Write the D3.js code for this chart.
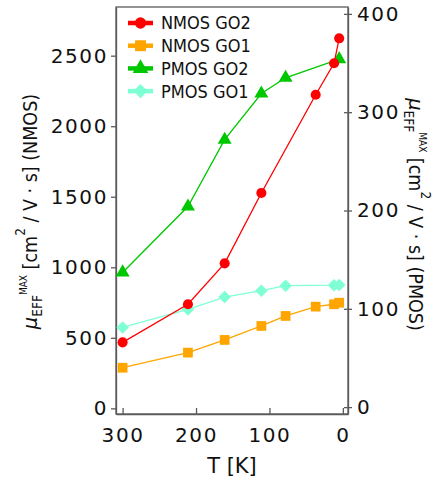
<!DOCTYPE html>
<html><head><meta charset="utf-8">
<script src="https://cdn.jsdelivr.net/npm/d3@7"></script>
<style>
html,body{margin:0;padding:0;background:#fff;}
svg{display:block;font-family:"DejaVu Sans",sans-serif;}
</style></head>
<body>
<svg id="chart" width="438" height="480"></svg>
<script>
// ---- data ----
const nmosGO2T = [300, 211, 161, 111, 37, 12, 5];
const nmosGO2V = [468, 738, 1028, 1527, 2223, 2446, 2623];
const nmosGO1T = [300, 211, 161, 111, 78, 37, 12, 5];
const nmosGO1V = [288, 395, 485, 584, 655, 721, 738, 749];
const pmosGO2T = [300, 211, 161, 111, 78, 5];
const pmosGO2V = [137, 204, 272, 319, 335, 354];
const pmosGO1T = [300, 211, 161, 111, 78, 12, 5];
const pmosGO1V = [81, 99.5, 112, 118.4, 123.5, 124, 124.2];
const xTicks = [300, 200, 100, 0];
const yLeftTicks = [0, 500, 1000, 1500, 2000, 2500];
const yRightTicks = [0, 100, 200, 300, 400];
const seriesNames = ["NMOS GO2", "NMOS GO1", "PMOS GO2", "PMOS GO1"];

const svg = d3.select("#chart");
const L = 116, R = 348, T = 7, B = 414;
const x = d3.scaleLinear().domain([309, -7]).range([L, R]);
const yL = d3.scaleLinear().domain([-40, 2845]).range([B, T]);
const yR = d3.scaleLinear().domain([-7, 407]).range([B, T]);

const axisColor = "#5a5a5a";
const fs = 20;
const condensed = "'DejaVu Sans Condensed', 'DejaVu Sans', sans-serif";

// frame
svg.append("rect").attr("x", L).attr("y", T).attr("width", R - L).attr("height", B - T)
  .attr("fill", "none").attr("stroke", axisColor).attr("stroke-width", 1.3);

const fmt = d3.format("d");
// x axis
const gx = svg.append("g").attr("transform", `translate(0,${B})`)
  .call(d3.axisBottom(x).tickValues(xTicks).tickFormat(fmt).tickSizeInner(-6).tickSizeOuter(0).tickPadding(14));
// left axis
const gyl = svg.append("g").attr("transform", `translate(${L},0)`)
  .call(d3.axisLeft(yL).tickValues(yLeftTicks).tickFormat(fmt).tickSizeInner(5).tickSizeOuter(0).tickPadding(3));
// right axis
const gyr = svg.append("g").attr("transform", `translate(${R},0)`)
  .call(d3.axisRight(yR).tickValues(yRightTicks).tickFormat(fmt).tickSizeInner(4).tickSizeOuter(0).tickPadding(5));
gyr.selectAll(".tick line").attr("x1", -4);

[gx, gyl, gyr].forEach(g => {
  g.select(".domain").attr("stroke", axisColor).attr("stroke-width", 1.3);
  g.selectAll(".tick line").attr("stroke", axisColor).attr("stroke-width", 1.3);
  g.selectAll(".tick text").attr("fill", "#111").attr("font-size", fs)
    .attr("font-family", "DejaVu Sans, sans-serif").attr("letter-spacing", 1.6);
});
gx.selectAll(".tick text").attr("dy", "0.71em");

// series
const diamond = {draw(ctx, size) { const r = Math.sqrt(size / 2); ctx.moveTo(0, -r); ctx.lineTo(r, 0); ctx.lineTo(0, r); ctx.lineTo(-r, 0); ctx.closePath(); }};
const series = [
  {name: seriesNames[0], t: nmosGO2T, v: nmosGO2V, y: yL, color: "#ff0000", sym: d3.symbolCircle, size: 80},
  {name: seriesNames[1], t: nmosGO1T, v: nmosGO1V, y: yL, color: "#ffa500", sym: d3.symbolSquare, size: 95},
  {name: seriesNames[2], t: pmosGO2T, v: pmosGO2V, y: yR, color: "#00c800", sym: d3.symbolTriangle, size: 85},
  {name: seriesNames[3], t: pmosGO1T, v: pmosGO1V, y: yR, color: "#7fffd4", sym: diamond, size: 80},
];

const plot = svg.append("g");
series.slice().reverse().forEach(s => {
  const pts = s.t.map((t, i) => [t, s.v[i]]);
  plot.append("path").datum(pts)
    .attr("fill", "none").attr("stroke", s.color).attr("stroke-width", 1.3)
    .attr("d", d3.line().x(d => x(d[0])).y(d => s.y(d[1])));
  plot.selectAll(null).data(pts).enter().append("path")
    .attr("transform", d => `translate(${x(d[0])},${s.y(d[1])})`)
    .attr("d", d3.symbol().type(s.sym).size(s.size))
    .attr("fill", s.color);
});

// legend
const lg = svg.append("g");
series.forEach((s, i) => {
  const yy = 23 + i * 22.7;
  lg.append("line").attr("x1", 128).attr("x2", 153).attr("y1", yy).attr("y2", yy)
    .attr("stroke", s.color).attr("stroke-width", 4.5);
  lg.append("path").attr("transform", `translate(140.5,${yy})`)
    .attr("d", d3.symbol().type(s.sym).size(s.size * 1.25)).attr("fill", s.color);
  lg.append("text").attr("x", 161).attr("y", yy).attr("dy", "0.36em")
    .attr("font-size", 18).attr("font-family", condensed).attr("fill", "#111").text(s.name);
});

// axis titles
function title(g, suffix) {
  const t = g.append("text").attr("text-anchor", "middle").attr("fill", "#111")
    .attr("font-size", 19.5).attr("font-family", condensed);
  t.append("tspan").attr("font-style", "italic").attr("font-family", "DejaVu Sans, sans-serif").text("μ");
  t.append("tspan").attr("font-size", 13.5).attr("dy", 5).text("EFF");
  t.append("tspan").attr("font-size", 10).attr("dy", -15).text("MAX");
  t.append("tspan").attr("dy", 10).text(" [cm");
  t.append("tspan").attr("font-size", 13.5).attr("dy", -12).text("2");
  t.append("tspan").attr("dy", 12).text(" / V \u00b7 s] " + suffix);
}
title(svg.append("g").attr("transform", `translate(37,${(T + B) / 2 + 1}) rotate(-90)`), "(NMOS)");
title(svg.append("g").attr("transform", `translate(409,${(T + B) / 2 + 4}) rotate(90)`), "(PMOS)");

svg.append("text").attr("x", (L + R) / 2).attr("y", 473).attr("text-anchor", "middle")
  .attr("font-size", 21).attr("fill", "#111").text("T [K]");
</script>
</body></html>
